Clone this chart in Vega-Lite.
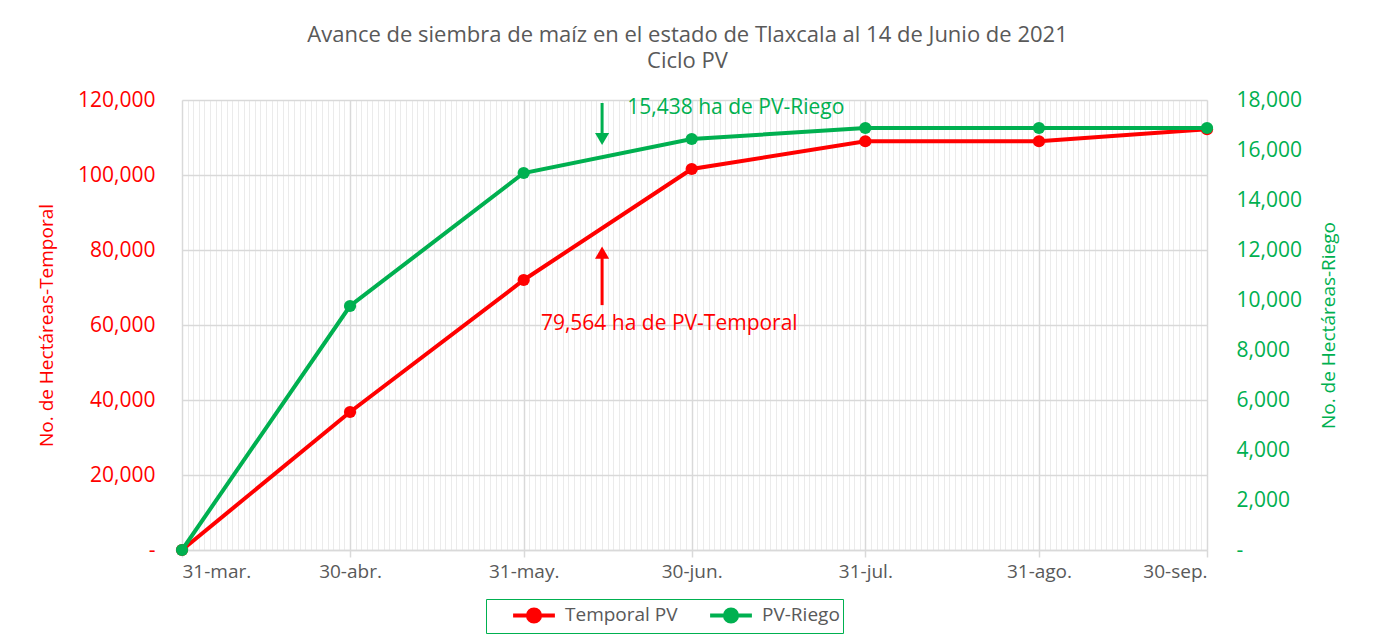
{
  "$schema": "https://vega.github.io/schema/vega-lite/v6.json",
  "width": 1025,
  "height": 450,
  "autosize": {"type": "none"},
  "padding": {"left": 182, "top": 100, "right": 167, "bottom": 93},
  "background": "white",
  "title": {
    "text": "Avance de siembra de maíz en el estado de Tlaxcala al 14 de Junio de 2021",
    "subtitle": "Ciclo PV",
    "fontSize": 22,
    "subtitleFontSize": 22,
    "font": "Open Sans",
    "subtitleFont": "Open Sans",
    "fontWeight": "normal",
    "subtitleFontWeight": "normal",
    "color": "#595959",
    "subtitleColor": "#595959",
    "subtitlePadding": 4,
    "anchor": "middle",
    "dx": -7,
    "offset": 16
  },
  "config": {"view": {"stroke": null}, "font": "Open Sans"},
  "datasets": {
    "serie": [
      {"fecha": "2021-03-31T00:00:00", "serie": "Temporal PV", "valor": 0},
      {"fecha": "2021-04-30T00:00:00", "serie": "Temporal PV", "valor": 36800},
      {"fecha": "2021-05-31T00:00:00", "serie": "Temporal PV", "valor": 72000},
      {"fecha": "2021-06-30T00:00:00", "serie": "Temporal PV", "valor": 101600},
      {"fecha": "2021-07-31T00:00:00", "serie": "Temporal PV", "valor": 109000},
      {"fecha": "2021-08-31T00:00:00", "serie": "Temporal PV", "valor": 109000},
      {"fecha": "2021-09-30T00:00:00", "serie": "Temporal PV", "valor": 112200},
      {"fecha": "2021-03-31T00:00:00", "serie": "PV-Riego", "valor": 0},
      {"fecha": "2021-04-30T00:00:00", "serie": "PV-Riego", "valor": 9760},
      {"fecha": "2021-05-31T00:00:00", "serie": "PV-Riego", "valor": 15080},
      {"fecha": "2021-06-30T00:00:00", "serie": "PV-Riego", "valor": 16440},
      {"fecha": "2021-07-31T00:00:00", "serie": "PV-Riego", "valor": 16880},
      {"fecha": "2021-08-31T00:00:00", "serie": "PV-Riego", "valor": 16880},
      {"fecha": "2021-09-30T00:00:00", "serie": "PV-Riego", "valor": 16880}
    ]
  },
  "layer": [
    {
      "layer": [
        {
          "data": {"name": "serie"},
          "transform": [{"filter": "datum.serie == 'Temporal PV'"}],
          "mark": {"type": "line", "strokeWidth": 4, "point": {"filled": true, "size": 150}},
          "encoding": {
            "x": {
              "field": "fecha", "type": "temporal",
              "scale": {"domain": [{"year": 2021, "month": 3, "date": 31}, {"year": 2021, "month": 9, "date": 30}]},
              "axis": {"orient": "bottom", "tickCount": {"interval": "day", "step": 1}, "grid": true, "gridColor": "#ebebeb", "gridWidth": 1, "labels": false, "ticks": false, "domain": false, "title": null}
            },
            "y": {
              "field": "valor", "type": "quantitative",
              "scale": {"domain": [0, 120000]},
              "axis": {
                "orient": "left", "title": "No. de Hectáreas-Temporal", "titleColor": "#FF0000", "titleFontSize": 19, "titleFontWeight": "normal", "titlePadding": 21,
                "labelColor": "#FF0000", "labelFontSize": 21, "labelPadding": 27, "ticks": false, "tickSize": 0, "domain": false,
                "grid": true, "gridColor": "#d9d9d9", "gridWidth": 1.5,
                "values": [0, 20000, 40000, 60000, 80000, 100000, 120000],
                "labelExpr": "datum.value == 0 ? '-' : format(datum.value, ',')"
              }
            },
            "color": {
              "field": "serie", "type": "nominal",
              "scale": {"domain": ["Temporal PV", "PV-Riego"], "range": ["#FF0000", "#00B050"]},
              "legend": {
                "orient": "none", "legendX": 304, "legendY": 499, "direction": "horizontal", "title": null,
                "strokeColor": "#00B050", "fillColor": "white", "padding": 3,
                "symbolType": "M-1.9,0L1.9,0M0.55,0A0.55,0.55,0,1,1,-0.55,0A0.55,0.55,0,1,1,0.55,0Z",
                "symbolSize": 484, "symbolStrokeWidth": 4, "symbolOffset": 32,
                "labelFontSize": 19, "labelColor": "#595959", "labelOffset": 18, "columnPadding": 8,
                "encode": {"symbols": {"update": {"fill": {"scale": "color", "field": "value"}, "stroke": {"scale": "color", "field": "value"}, "strokeWidth": {"value": 4}}}}
              }
            }
          }
        },
        {
          "data": {"values": [{"fecha": "2021-06-14T00:00:00", "valor": 65300, "valor2": 77900}]},
          "mark": {"type": "rule", "color": "#FF0000", "strokeWidth": 3},
          "encoding": {
            "x": {"field": "fecha", "type": "temporal"},
            "y": {"field": "valor", "type": "quantitative"},
            "y2": {"field": "valor2"}
          }
        },
        {
          "data": {"values": [{"fecha": "2021-06-14T00:00:00", "valor": 79300}]},
          "mark": {"type": "point", "shape": "triangle-up", "filled": true, "color": "#FF0000", "size": 200, "opacity": 1},
          "encoding": {
            "x": {"field": "fecha", "type": "temporal"},
            "y": {"field": "valor", "type": "quantitative"}
          }
        },
        {
          "data": {"values": [{"fecha": "2021-06-26T00:00:00", "valor": 60300, "texto": "79,564 ha de PV-Temporal"}]},
          "mark": {"type": "text", "color": "#FF0000", "fontSize": 21, "align": "center", "baseline": "middle"},
          "encoding": {
            "x": {"field": "fecha", "type": "temporal"},
            "y": {"field": "valor", "type": "quantitative"},
            "text": {"field": "texto"}
          }
        }
      ]
    },
    {
      "layer": [
        {
          "data": {"name": "serie"},
          "transform": [{"filter": "datum.serie == 'PV-Riego'"}],
          "mark": {"type": "line", "strokeWidth": 4, "point": {"filled": true, "size": 150}},
          "encoding": {
            "x": {
              "field": "fecha", "type": "temporal",
              "axis": {
                "orient": "bottom", "title": null,
                "values": [
                  {"year": 2021, "month": 3, "date": 31}, {"year": 2021, "month": 4, "date": 30}, {"year": 2021, "month": 5, "date": 31},
                  {"year": 2021, "month": 6, "date": 30}, {"year": 2021, "month": 7, "date": 31}, {"year": 2021, "month": 8, "date": 31},
                  {"year": 2021, "month": 9, "date": 30}
                ],
                "labelExpr": "date(datum.value) + '-' + ['ene.','feb.','mar.','abr.','may.','jun.','jul.','ago.','sep.','oct.','nov.','dic.'][month(datum.value)]",
                "grid": true, "gridColor": "#d9d9d9", "gridWidth": 1.5,
                "domain": true, "domainColor": "#d9d9d9", "domainWidth": 1.5,
                "ticks": true, "tickColor": "#d9d9d9", "tickSize": 7, "tickWidth": 1.5,
                "labelColor": "#595959", "labelFontSize": 19, "labelPadding": 5
              }
            },
            "y": {
              "field": "valor", "type": "quantitative",
              "scale": {"domain": [0, 18000]},
              "axis": {
                "orient": "right", "title": "No. de Hectáreas-Riego", "titleColor": "#00B050", "titleFontSize": 19, "titleFontWeight": "normal", "titlePadding": 37, "titleAngle": 270,
                "labelColor": "#00B050", "labelFontSize": 21, "labelPadding": 29, "ticks": false, "tickSize": 0, "domain": false, "grid": false,
                "values": [0, 2000, 4000, 6000, 8000, 10000, 12000, 14000, 16000, 18000],
                "labelExpr": "datum.value == 0 ? '-' : format(datum.value, ',')"
              }
            },
            "color": {"field": "serie", "type": "nominal"}
          }
        },
        {
          "data": {"values": [{"fecha": "2021-06-14T00:00:00", "valor": 17880, "valor2": 16600}]},
          "mark": {"type": "rule", "color": "#00B050", "strokeWidth": 3},
          "encoding": {
            "x": {"field": "fecha", "type": "temporal"},
            "y": {"field": "valor", "type": "quantitative"},
            "y2": {"field": "valor2"}
          }
        },
        {
          "data": {"values": [{"fecha": "2021-06-14T00:00:00", "valor": 16440}]},
          "mark": {"type": "point", "shape": "triangle-down", "filled": true, "color": "#00B050", "size": 200, "opacity": 1},
          "encoding": {
            "x": {"field": "fecha", "type": "temporal"},
            "y": {"field": "valor", "type": "quantitative"}
          }
        },
        {
          "data": {"values": [{"fecha": "2021-06-18T12:00:00", "valor": 17680, "texto": "15,438 ha de PV-Riego"}]},
          "mark": {"type": "text", "color": "#00B050", "fontSize": 21, "align": "left", "baseline": "middle"},
          "encoding": {
            "x": {"field": "fecha", "type": "temporal"},
            "y": {"field": "valor", "type": "quantitative"},
            "text": {"field": "texto"}
          }
        }
      ]
    }
  ],
  "resolve": {"scale": {"y": "independent"}, "axis": {"x": "independent", "y": "independent"}}
}
